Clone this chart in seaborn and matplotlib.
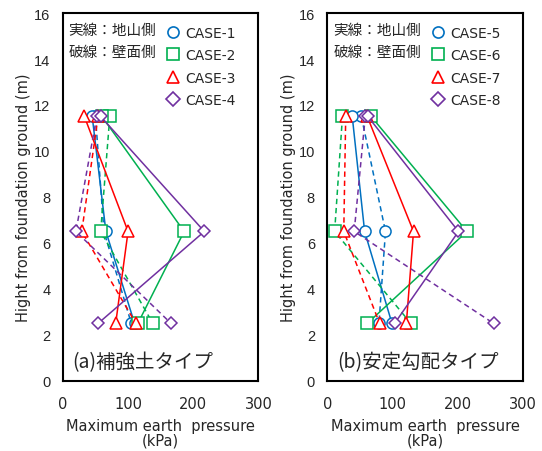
import pandas as pd
import matplotlib.pyplot as plt
import seaborn as sns
from matplotlib.lines import Line2D

sns.set_style("white")
plt.rcParams['font.family'] = ['DejaVu Sans', 'Noto Sans CJK JP']

# heights of the measuring points (m)
heights = [11.5, 6.5, 2.5]

# maximum earth pressure (kPa), top -> bottom
# (a) reinforced soil type
solid_a = {
    'CASE-1': [45, 66, 110],
    'CASE-2': [60, 186, 115],
    'CASE-3': [33, 100, 81],
    'CASE-4': [58, 217, 54],
}
dashed_a = {
    'CASE-1': [50, 63, 105],
    'CASE-2': [72, 58, 138],
    'CASE-3': [54, 29, 112],
    'CASE-4': [52, 20, 166],
}
# (b) stable slope type
solid_b = {
    'CASE-5': [38, 57, 99],
    'CASE-6': [67, 214, 61],
    'CASE-7': [61, 132, 121],
    'CASE-8': [62, 201, 103],
}
dashed_b = {
    'CASE-5': [52, 89, 79],
    'CASE-6': [23, 11, 128],
    'CASE-7': [28, 25, 80],
    'CASE-8': [58, 41, 255],
}

colors = ['#0070C0', '#00B050', '#FF0000', '#7030A0']
markers = ['o', 's', '^', 'D']
panel_titles = ['(a)補強土タイプ', '(b)安定勾配タイプ']
CJK = ['Noto Sans CJK JP', 'DejaVu Sans']


def to_frame(solid, dashed):
    rows = []
    for side, table in (('solid', solid), ('dashed', dashed)):
        for case, vals in table.items():
            for h, p in zip(heights, vals):
                rows.append({'case': case, 'side': side, 'height': h, 'pressure': p})
    return pd.DataFrame(rows)


def draw_panel(ax, df, title):
    cases = list(dict.fromkeys(df['case']))
    for i, case in enumerate(cases):
        for side in ('dashed', 'solid'):
            sub = df[(df['case'] == case) & (df['side'] == side)]
            sns.lineplot(data=sub, x='pressure', y='height', ax=ax, sort=False,
                         estimator=None, color=colors[i], marker=markers[i],
                         markersize=8 if markers[i] != 'D' else 6.5,
                         markerfacecolor='white', markeredgecolor=colors[i],
                         markeredgewidth=1.1, linewidth=1.1,
                         linestyle='-' if side == 'solid' else (0, (3.5, 2.5)))
    ax.set_xlim(0, 300)
    ax.set_ylim(0, 16)
    ax.set_xticks([0, 100, 200, 300])
    ax.set_yticks(range(0, 17, 2))
    ax.tick_params(axis='x', length=0, labelsize=10.5, pad=11)
    ax.tick_params(axis='y', length=0, labelsize=10.5, pad=9)
    for lab in ax.get_yticklabels():
        lab.set_family(['Liberation Sans', 'DejaVu Sans'])
    for s in ax.spines.values():
        s.set_color('black')
        s.set_linewidth(1.5)
    ax.set_xlabel('Maximum earth  pressure\n(kPa)', fontsize=10.5, linespacing=0.95, labelpad=5)
    ax.set_ylabel('Hight from foundation ground (m)', fontsize=10.5, labelpad=2)
    ax.text(0.03, 0.954, '実線：地山側', transform=ax.transAxes, fontsize=10.5,
            va='center', family=CJK)
    ax.text(0.03, 0.894, '破線：壁面側', transform=ax.transAxes, fontsize=10.5,
            va='center', family=CJK)
    ax.text(0.05, 0.052, title, transform=ax.transAxes, fontsize=14, va='center', family=CJK)
    handles = [Line2D([], [], color=colors[i], marker=markers[i], linestyle='none',
                      markersize=8 if markers[i] != 'D' else 7, markerfacecolor='white',
                      markeredgewidth=1.2, label=c)
               for i, c in enumerate(cases)]
    ax.legend(handles=handles, loc='upper right', frameon=False, fontsize=10,
              handlelength=1.0, handletextpad=0.4, labelspacing=0.62,
              borderaxespad=0.5, bbox_to_anchor=(0.95, 1.0))


fig, axes = plt.subplots(1, 2, figsize=(5.42, 4.52), dpi=100)
plt.subplots_adjust(left=0.116, right=0.965, top=0.969, bottom=0.155, wspace=0.353)

draw_panel(axes[0], to_frame(solid_a, dashed_a), panel_titles[0])
draw_panel(axes[1], to_frame(solid_b, dashed_b), panel_titles[1])

plt.savefig('out.png', dpi=100)
